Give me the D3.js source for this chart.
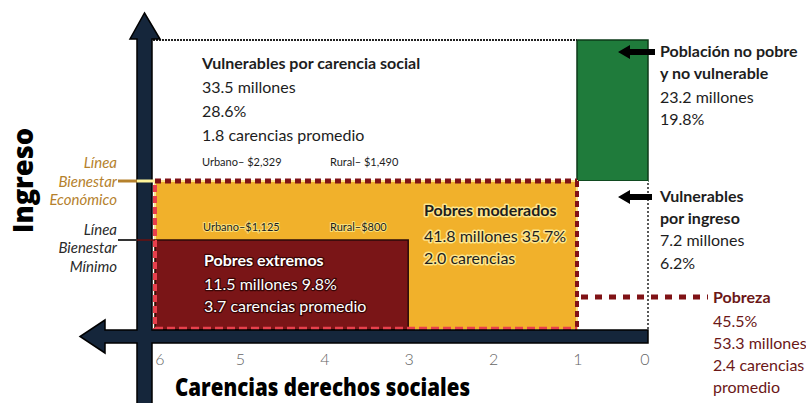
<!DOCTYPE html>
<html><head><meta charset="utf-8">
<script src="https://cdn.jsdelivr.net/npm/d3@7"></script>
<style>
html,body{margin:0;padding:0;background:#fff;}
svg{display:block;font-family:Lato, "Open Sans", sans-serif;}
</style></head>
<body>
<svg id="chart" width="806" height="403"></svg>
<script>
// ---- data ----
const carenciaTicks = [6, 5, 4, 3, 2, 1, 0];
const ingresoNiveles = ["Base", "Línea Bienestar Mínimo", "Línea Bienestar Económico", "Tope"];
const lineaUrbano = [1125, 2329];
const lineaRural = [800, 1490];
const grupos = ["Vulnerables por carencia social", "Población no pobre y no vulnerable", "Vulnerables por ingreso", "Pobres moderados", "Pobres extremos"];
const grupoCarDesde = [6, 1, 1, 6, 6];
const grupoCarHasta = [1, 0, 0, 1, 3];
const grupoIngDesde = ["Línea Bienestar Económico", "Línea Bienestar Económico", "Base", "Base", "Base"];
const grupoIngHasta = ["Tope", "Tope", "Línea Bienestar Económico", "Línea Bienestar Económico", "Línea Bienestar Mínimo"];
const grupoMillones = [33.5, 23.2, 7.2, 41.8, 11.5];
const grupoPct = [28.6, 19.8, 6.2, 35.7, 9.8];
const grupoCarenciasProm = [1.8, null, null, 2.0, 3.7];
const pobreza = {pct: 45.5, millones: 53.3, carencias: 2.4};

// ---- scales ----
const x = d3.scaleLinear().domain([6, 1, 0]).range([155, 577, 648]);
const y = d3.scaleOrdinal().domain(ingresoNiveles).range([330, 240, 181, 40]);

const svg = d3.select("#chart");
const fmt = d3.format(",");

const C = {
  navy: "#15263b", yellow: "#f1b12b", dred: "#7a1517", green: "#1f7b3b",
  dots: "#801316", bright: "#e8404c", text: "#1d1d1d", gold: "#b5812c"
};

// ---- rectangles ----
const fills = ["#ffffff", C.green, "#ffffff", C.yellow, C.dred];
const rects = grupos.map((g, i) => ({
  g, fill: fills[i],
  x0: x(grupoCarDesde[i]), x1: x(grupoCarHasta[i]),
  y0: y(grupoIngHasta[i]), y1: y(grupoIngDesde[i])
}));

svg.selectAll("rect.box").data(rects).join("rect")
  .attr("class", "box")
  .attr("x", d => d.x0).attr("y", d => d.y0)
  .attr("width", d => d.x1 - d.x0).attr("height", d => d.y1 - d.y0)
  .attr("fill", d => d.fill)
  .attr("stroke", (d, i) => i === 1 ? "#0c3a18" : i === 4 ? "#2a0a0a" : i === 3 ? "#fbe58a" : "none")
  .attr("stroke-width", (d, i) => i === 3 ? 2 : 1.5);

// top dotted border of white region
svg.append("line")
  .attr("x1", x(6) - 2).attr("x2", x(1)).attr("y1", y("Tope")).attr("y2", y("Tope"))
  .attr("stroke", "#222").attr("stroke-width", 2).attr("stroke-dasharray", "2,1");
// dotted vertical for vulnerables por ingreso
svg.append("line")
  .attr("x1", x(0)).attr("x2", x(0)).attr("y1", y("Línea Bienestar Económico") + 2).attr("y2", y("Base"))
  .attr("stroke", "#222").attr("stroke-width", 1.5).attr("stroke-dasharray", "2,2");

// ---- pobreza dashed outline ----
const yE = y("Línea Bienestar Económico"), yB = y("Base");
svg.append("line").attr("x1", x(6)).attr("x2", x(1)).attr("y1", yE).attr("y2", yE)
  .attr("stroke", C.dots).attr("stroke-width", 5).attr("stroke-dasharray", "6,4");
svg.append("line").attr("x1", x(1)).attr("x2", x(1)).attr("y1", yE).attr("y2", yB)
  .attr("stroke", C.dots).attr("stroke-width", 4).attr("stroke-dasharray", "6,4");
svg.append("line").attr("x1", x(6)).attr("x2", x(6)).attr("y1", yE + 4).attr("y2", yB)
  .attr("stroke", C.bright).attr("stroke-width", 4).attr("stroke-dasharray", "7,4");
svg.append("line").attr("x1", x(6)).attr("x2", x(1)).attr("y1", yB - 1.5).attr("y2", yB - 1.5)
  .attr("stroke", C.bright).attr("stroke-width", 3.5).attr("stroke-dasharray", "8,4");
const yPob = (y("Línea Bienestar Mínimo") + yB) / 2 + 12;
svg.append("line").attr("x1", x(1) + 4).attr("x2", 708).attr("y1", yPob).attr("y2", yPob)
  .attr("stroke", C.dots).attr("stroke-width", 5).attr("stroke-dasharray", "7,7");

// ---- axes (arrows) ----
const ax = x(6) - 18, ax2 = x(6) - 3; // vertical shaft
const ay = yB, ay2 = yB + 13;         // horizontal shaft
const axisPath = [
  [(ax + ax2) / 2, 13], [ax2 + 8, 39], [ax2, 39], [ax2, ay], [x(0), ay], [x(0), ay2],
  [ax2, ay2], [ax2, 405], [ax, 405], [ax, ay2], [105, ay2], [105, ay2 + 10], [80, (ay + ay2) / 2],
  [105, ay - 10], [105, ay], [ax, ay], [ax, 39], [ax - 7, 39]
];
svg.append("path").attr("d", d3.line()(axisPath) + "Z")
  .attr("fill", C.navy).attr("stroke", "#000").attr("stroke-width", 1.5).attr("stroke-linejoin", "miter");

// ---- income line connectors ----
const yM = y("Línea Bienestar Mínimo");
svg.append("line").attr("x1", 118).attr("x2", ax).attr("y1", yE).attr("y2", yE).attr("stroke", C.gold).attr("stroke-width", 3);
svg.append("line").attr("x1", ax).attr("x2", x(6)).attr("y1", yE).attr("y2", yE).attr("stroke", "#fff59a").attr("stroke-width", 3);
svg.append("line").attr("x1", 118).attr("x2", ax).attr("y1", yM).attr("y2", yM).attr("stroke", "#333").attr("stroke-width", 2);
svg.append("line").attr("x1", ax).attr("x2", x(6)).attr("y1", yM).attr("y2", yM).attr("stroke", "#6a1010").attr("stroke-width", 1.5);

function stack(lines, x0, ys, opts) {
  const g = svg.append("g");
  lines.forEach((t, i) => {
    const el = g.append("text").attr("x", x0).attr("y", ys[i]).text(t)
      .attr("font-size", opts.size || 16)
      .attr("fill", opts.fill || C.text)
      .attr("font-weight", (opts.bold || 0) > i ? 700 : 400)
      .attr("text-anchor", opts.anchor || "start");
    if (opts.italic) el.attr("font-style", "italic");
    if (opts.glow) el.attr("stroke", opts.glow).attr("stroke-width", opts.glowW || 3)
      .attr("paint-order", "stroke").attr("stroke-linejoin", "round");
  });
  return g;
}

// left labels
stack(["Línea", "Bienestar", "Económico"], 117, [168, 187, 205], {size: 15, italic: true, fill: C.gold, anchor: "end"});
stack(["Línea", "Bienestar", "Mínimo"], 117, [235, 253, 272], {size: 15, italic: true, fill: "#2a2a2a", anchor: "end"});

// box texts
stack([grupos[0], `${grupoMillones[0]} millones`, `${grupoPct[0]}%`, `${grupoCarenciasProm[0]} carencias promedio`],
  202, [69, 93, 117, 141], {bold: 1});
stack([`Urbano– $${fmt(lineaUrbano[1])}`], 202, [166], {size: 11});
stack([`Rural– $${fmt(lineaRural[1])}`], 330, [166], {size: 11});
stack([`Urbano–$${fmt(lineaUrbano[0])}`], 203, [231], {size: 11, glow: "#fbe07a", glowW: 2});
stack([`Rural–$${lineaRural[0]}`], 330, [231], {size: 11, glow: "#fbe07a", glowW: 2});

stack(["Pobres moderados", `${grupoMillones[3]} millones ${grupoPct[3]}%`, `${grupoCarenciasProm[3].toFixed(1)} carencias`],
  424, [216, 242, 264], {bold: 1, glow: "#fde58c", glowW: 3});
stack(["Pobres extremos", `${grupoMillones[4]} millones ${grupoPct[4]}%`, `${grupoCarenciasProm[4]} carencias promedio`],
  204, [266, 290, 312], {bold: 1, fill: "#fff", glow: "#3a0606", glowW: 2.5});

stack(["Población no pobre", "y no vulnerable", `${grupoMillones[1]} millones`, `${grupoPct[1]}%`],
  660, [57, 79, 103, 125], {bold: 2});
stack(["Vulnerables", "por ingreso", `${grupoMillones[2]} millones`, `${grupoPct[2]}%`],
  660, [202, 224, 246, 269], {bold: 2});
stack(["Pobreza", `${pobreza.pct}%`, `${pobreza.millones} millones`, `${pobreza.carencias} carencias`, "promedio"],
  713, [303, 327, 349, 371, 393], {bold: 1, fill: "#6b1717"});

// small arrows on right
function arrow(xTip, xEnd, yc) {
  const p = [[xTip, yc], [xTip + 12, yc - 7], [xTip + 12, yc - 3], [xEnd, yc - 3], [xEnd, yc + 3], [xTip + 12, yc + 3], [xTip + 12, yc + 7]];
  svg.append("path").attr("d", d3.line()(p) + "Z").attr("fill", "#000");
}
arrow(618, 655, 52);
arrow(618, 652, 197);

// tick labels
svg.selectAll("text.tick").data(carenciaTicks).join("text")
  .attr("class", "tick").attr("x", d => x(d) + (d === 6 ? 5 : d === 0 ? -3 : 1)).attr("y", 365)
  .attr("text-anchor", "middle").attr("font-size", 16).attr("font-weight", 300)
  .attr("fill", "#666").text(d => d);

// axis titles
svg.append("text").attr("x", 175).attr("y", 396).text("Carencias derechos sociales")
  .attr("font-family", "'Open Sans', sans-serif").attr("font-weight", 800).attr("font-size", 24)
  .attr("fill", "#000").attr("textLength", 295).attr("lengthAdjust", "spacingAndGlyphs");
svg.append("text").attr("transform", "translate(33,233) rotate(-90)").text("Ingreso")
  .attr("font-family", "'Open Sans', sans-serif").attr("font-weight", 800).attr("font-size", 28)
  .attr("fill", "#000").attr("textLength", 105).attr("lengthAdjust", "spacingAndGlyphs");
</script>
</body></html>
